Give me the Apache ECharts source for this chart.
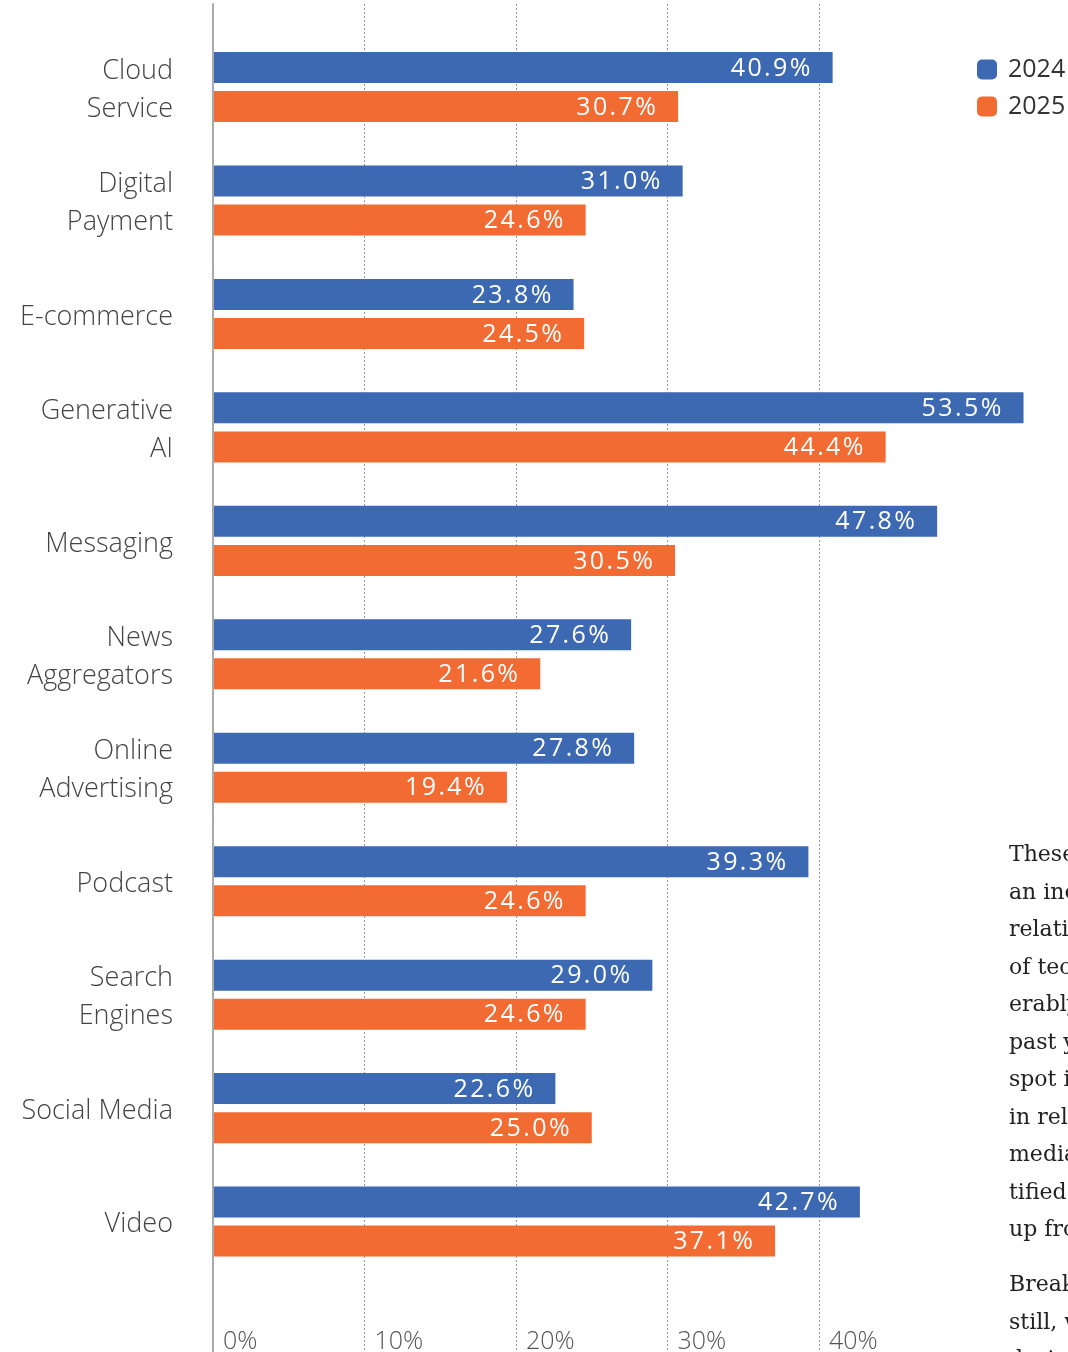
<!DOCTYPE html>
<html>
<head>
<meta charset="utf-8">
<script src="https://cdn.jsdelivr.net/npm/echarts@6/dist/echarts.min.js"></script>
<style>
  html, body { margin: 0; padding: 0; background: #ffffff; }
  #chart { width: 1068px; height: 1352px; }
</style>
</head>
<body>
<div id="chart"></div>
<script>
// Share of respondents by technology category, two survey years
const categories = [
  'Cloud\nService', 'Digital\nPayment', 'E-commerce', 'Generative\nAI', 'Messaging',
  'News\nAggregators', 'Online\nAdvertising', 'Podcast', 'Search\nEngines', 'Social Media', 'Video'
];
const seriesNames = ['2024', '2025'];
const values2024 = [40.9, 31.0, 23.8, 53.5, 47.8, 27.6, 27.8, 39.3, 29.0, 22.6, 42.7];
const values2025 = [30.7, 24.6, 24.5, 44.4, 30.5, 21.6, 19.4, 24.6, 24.6, 25.0, 37.1];
const tickLabels = ['0%', '10%', '20%', '30%', '40%'];

// Body copy set beside the chart
const paragraphOne = ['These results', 'an increase', 'relative', 'of tech', 'erably', 'past year', 'spot in', 'in relation', 'media', 'tified', 'up from'];
const paragraphTwo = ['Breaking', 'still, we', 'design'];

// Layout
const PX_PER_PCT = 15.15;
const AXIS_X = 213;
const BAR_MAX = 56;     // value range of the bar grid
const GUIDE_MAX = 45;   // value range of the guide grid (lines at 0..40)
const BLUE = '#3C69B1';
const ORANGE = '#F26B33';
const SANS = '"Open Sans", Lato, sans-serif';
const SERIF = '"DejaVu Serif", "Liberation Serif", serif';

const chart = echarts.init(document.getElementById('chart'), null, { renderer: 'canvas' });

// Value labels are tracked out a little: each character gets a small side padding
const valueLabel = {
  show: true,
  position: 'insideRight',
  distance: 21,
  offset: [0, 1],
  color: '#ffffff',
  fontFamily: SANS,
  fontSize: 25,
  fontWeight: 500,
  formatter: p => (p.value.toFixed(1) + '%').split('').map(ch => '{t|' + ch + '}').join(''),
  rich: {
    t: { color: '#ffffff', fontFamily: SANS, fontSize: 25, fontWeight: 500, padding: [0, 1.2, 0, 1.2] }
  }
};

// Category names: each line sits slightly low in its 38px line box
const categoryLineStyle = {
  fontFamily: SANS, fontSize: 27, fontWeight: 300, color: '#444',
  lineHeight: 38, padding: [6, 0, 0, 0]
};

chart.setOption({
  animation: false,
  color: [BLUE, ORANGE],
  legend: {
    data: seriesNames,
    orient: 'vertical',
    left: 977,
    top: 57,
    padding: 0,
    itemWidth: 20,
    itemHeight: 20,
    itemGap: 12,
    icon: 'roundRect',
    textStyle: { fontFamily: SANS, fontSize: 25, color: '#333', padding: [0, 0, 0, 6] }
  },
  grid: [
    { left: AXIS_X, top: 30.3, width: BAR_MAX * PX_PER_PCT, height: 1248, outerBoundsMode: 'none', containLabel: false },
    { left: AXIS_X, top: 4, width: GUIDE_MAX * PX_PER_PCT, height: 1420, outerBoundsMode: 'none', containLabel: false }
  ],
  xAxis: [
    {
      gridIndex: 0, type: 'value', min: 0, max: BAR_MAX, interval: 10,
      axisLine: { show: false }, axisTick: { show: false }, splitLine: { show: false },
      axisLabel: {
        margin: 51,
        align: 'left',
        padding: [0, 0, 0, 10],
        fontFamily: SANS, fontSize: 25, fontWeight: 300, color: '#555',
        formatter: v => tickLabels[v / 10] || ''
      }
    },
    {
      gridIndex: 1, type: 'value', min: 0, max: GUIDE_MAX, interval: 10,
      axisLine: { show: false }, axisTick: { show: false }, axisLabel: { show: false },
      splitLine: {
        show: true, showMinLine: false, showMaxLine: false,
        lineStyle: { color: '#9a9a9a', width: 1, type: [2, 2] }
      }
    }
  ],
  yAxis: [
    {
      gridIndex: 0, type: 'category', data: categories, inverse: true,
      axisLine: { show: false }, axisTick: { show: false },
      axisLabel: {
        margin: 40, fontFamily: SANS, fontSize: 27, fontWeight: 300,
        color: '#444', lineHeight: 38,
        formatter: v => v.split('\n').map(line => '{c|' + line + '}').join('\n'),
        rich: { c: categoryLineStyle }
      }
    },
    {
      gridIndex: 1, type: 'value', min: 0, max: 1, z: 5,
      axisLine: { show: true, lineStyle: { color: '#aaaaaa', width: 2 } },
      axisTick: { show: false }, axisLabel: { show: false }, splitLine: { show: false }
    }
  ],
  series: [
    {
      name: seriesNames[0], type: 'bar', xAxisIndex: 0, yAxisIndex: 0,
      data: values2024, barWidth: 31, barGap: '26%',
      itemStyle: { color: BLUE }, label: valueLabel
    },
    {
      name: seriesNames[1], type: 'bar', xAxisIndex: 0, yAxisIndex: 0,
      data: values2025, barWidth: 31, barGap: '26%',
      itemStyle: { color: ORANGE }, label: valueLabel
    }
  ],
  graphic: [
    {
      type: 'text', left: 1009, top: 837,
      style: { text: paragraphOne.join('\n'), font: '22px ' + SERIF, lineHeight: 37.5, fill: '#222' }
    },
    {
      type: 'text', left: 1009, top: 1267,
      style: { text: paragraphTwo.join('\n'), font: '22px ' + SERIF, lineHeight: 37.5, fill: '#222' }
    }
  ]
});
</script>
</body>
</html>
